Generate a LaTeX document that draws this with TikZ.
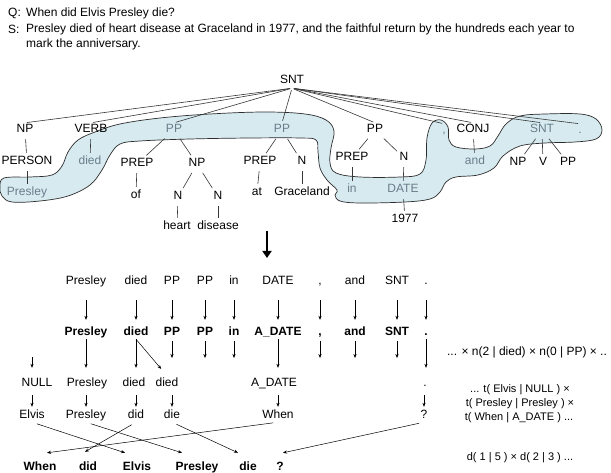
\documentclass[tikz,border=0pt]{standalone}
\usepackage{fontspec}
\setmainfont{Liberation Sans}
\usetikzlibrary{arrows.meta}
\definecolor{blobfill}{RGB}{214,234,240}
\definecolor{blobedge}{RGB}{45,45,45}
\definecolor{blobtext}{RGB}{105,126,138}
\definecolor{treeline}{RGB}{55,55,55}

\begin{document}
\begin{tikzpicture}[x=1pt,y=-1pt,>=Stealth,line join=round,
  lab/.style={font=\fontsize{12}{14}\selectfont,inner sep=1pt,text height=9pt,text depth=3pt},
  glab/.style={lab,text=blobtext},
  blab/.style={lab,font=\fontsize{12}{14}\selectfont\bfseries},
  hdr/.style={font=\fontsize{12}{14}\selectfont,anchor=west,inner sep=0pt},
  eqn/.style={font=\fontsize{11}{13}\selectfont,inner sep=0pt},
  tree/.style={treeline,line width=0.6pt,shorten <=2pt,shorten >=2pt},
  arr/.style={-{Stealth[length=4pt,width=3.2pt]},line width=0.5pt}]
  \fill[white] (0,0) rectangle (611,473);
  \useasboundingbox (0,0) rectangle (611,473);
  % question and sentence
  \node[hdr] (Q) at (8,13) {Q:};
  \node[hdr] (QT) at (26,13) {When did Elvis Presley die?};
  \node[hdr] (S) at (8,29) {S:};
  \node[hdr] (ST1) at (26,29) {Presley died of heart disease at Graceland in 1977, and the faithful return by the hundreds each year to};
  \node[hdr] (ST2) at (26,44) {mark the anniversary.};
  % aligned region
  \draw[blobedge,fill=blobfill,line width=0.7pt] plot[smooth cycle,tension=0.6] coordinates {
    (4,178) (30,177) (52,175) (62,166) (68,152) (78,140) (95,132) (120,124) (160,118)
    (210,114) (265,112) (305,114) (326,120) (334,131) (331,148) (330,163) (336,173)
    (360,177) (400,177) (420,174) (426,160) (427,138) (432,123) (441,120) (448,127)
    (449,140) (456,147) (475,149) (490,146) (498,136) (506,124) (520,116) (545,114)
    (580,114) (596,119) (602,130) (596,139) (575,142) (545,143) (520,146) (503,156)
    (494,168) (478,175) (456,177) (446,182) (440,192) (430,199) (405,202) (360,203)
    (340,201) (335,195) (337,190) (327,180) (320,168) (318,152) (316,140) (300,138)
    (250,138) (190,139) (140,141) (120,144) (110,155) (102,170) (90,185) (68,196)
    (40,201) (12,202) (2,196) (0,187)};
  % parse tree
  \node[lab] (SNT0) at (292,81) {SNT};
  \node[lab] (NP1) at (25,130) {NP};
  \node[lab] (VB1) at (91,130) {VERB};
  \node[glab] (PPa) at (174,130) {PP};
  \node[glab] (PPb) at (282,130) {PP};
  \node[lab] (PPc) at (375,130) {PP};
  \node[glab] (CMa) at (444,131) {,};
  \node[lab] (CJ1) at (473,130) {CONJ};
  \node[glab] (SNTb) at (542,130) {SNT};
  \node[glab] (PDa) at (580,131) {.};
  \node[lab] (PRS) at (27,162) {PERSON};
  \node[glab] (DIED) at (90,162) {died};
  \node[lab] (PREPa) at (137,164) {PREP};
  \node[lab] (NPa) at (197,164) {NP};
  \node[lab] (PREPb) at (260,162) {PREP};
  \node[lab] (Nb) at (302,162) {N};
  \node[lab] (PREPc) at (352,158) {PREP};
  \node[lab] (Nc) at (404,158) {N};
  \node[glab] (AND) at (475,162) {and};
  \node[lab] (NPs) at (518,163) {NP};
  \node[lab] (Vs) at (543,163) {V};
  \node[lab] (PPs) at (568,163) {PP};
  \node[glab] (PRES) at (27,193) {Presley};
  \node[lab] (OF) at (136,196) {of};
  \node[lab] (Na1) at (178,197) {N};
  \node[lab] (Na2) at (218,197) {N};
  \node[lab] (AT) at (257,193) {at};
  \node[lab] (GRC) at (302,193) {Graceland};
  \node[glab] (IN) at (352,190) {in};
  \node[glab] (DT) at (403,190) {DATE};
  \node[lab] (HRT) at (177,227) {heart};
  \node[lab] (DIS) at (218,227) {disease};
  \node[lab] (YR) at (405,220) {1977};
  \draw[tree] (SNT0.south) -- (NP1.north);
  \draw[tree] (SNT0.south) -- (VB1.north);
  \draw[tree] (SNT0.south) -- (PPa.north);
  \draw[tree] (SNT0.south) -- (PPb.north);
  \draw[tree] (SNT0.south) -- (PPc.north);
  \draw[tree] (SNT0.south) -- (CMa.north);
  \draw[tree] (SNT0.south) -- (CJ1.north);
  \draw[tree] (SNT0.south) -- (SNTb.north);
  \draw[tree] (SNT0.south) -- (PDa.north);
  \draw[tree] (NP1) -- (PRS);
  \draw[tree] (PRS) -- (PRES);
  \draw[tree] (VB1) -- (DIED);
  \draw[tree] (PPa) -- (PREPa);
  \draw[tree] (PPa) -- (NPa);
  \draw[tree] (PREPa) -- (OF);
  \draw[tree] (NPa) -- (Na1);
  \draw[tree] (NPa) -- (Na2);
  \draw[tree] (Na1) -- (HRT);
  \draw[tree] (Na2) -- (DIS);
  \draw[tree] (PPb) -- (PREPb);
  \draw[tree] (PPb) -- (Nb);
  \draw[tree] (PREPb) -- (AT);
  \draw[tree] (Nb) -- (GRC);
  \draw[tree] (PPc) -- (PREPc);
  \draw[tree] (PPc) -- (Nc);
  \draw[tree] (PREPc) -- (IN);
  \draw[tree] (Nc) -- (DT);
  \draw[tree] (DT) -- (YR);
  \draw[tree] (CJ1) -- (AND);
  \draw[tree] (SNTb) -- (NPs);
  \draw[tree] (SNTb) -- (Vs);
  \draw[tree] (SNTb) -- (PPs);
  % big arrow
  \coordinate (BA1) at (267,231);
  \coordinate (BA2) at (267,258);
  \draw[line width=2.8pt,-{Triangle[length=7pt,width=9pt]}] (BA1) -- (BA2);
  % reordered tree leaves
  \node[lab] (A1) at (86,282) {Presley};
  \node[lab] (A2) at (136,282) {died};
  \node[lab] (A3) at (172,282) {PP};
  \node[lab] (A4) at (205,282) {PP};
  \node[lab] (A5) at (234,282) {in};
  \node[lab] (A6) at (278,282) {DATE};
  \node[lab] (A7) at (320,282) {,};
  \node[lab] (A8) at (355,282) {and};
  \node[lab] (A9) at (397,282) {SNT};
  \node[lab] (A10) at (426,282) {.};
  \node[blab] (B1) at (86,332) {Presley};
  \node[blab] (B2) at (136,332) {died};
  \node[blab] (B3) at (172,332) {PP};
  \node[blab] (B4) at (205,332) {PP};
  \node[blab] (B5) at (234,332) {in};
  \node[blab] (B6) at (278,332) {A\_DATE};
  \node[blab] (B7) at (320,332) {,};
  \node[blab] (B8) at (355,332) {and};
  \node[blab] (B9) at (397,332) {SNT};
  \node[blab] (B10) at (426,332) {.};
  \draw[arr,shorten <=11pt,shorten >=5pt] (A1) -- (B1);
  \draw[arr,shorten <=11pt,shorten >=5pt] (A2) -- (B2);
  \draw[arr,shorten <=11pt,shorten >=5pt] (A3) -- (B3);
  \draw[arr,shorten <=11pt,shorten >=5pt] (A4) -- (B4);
  \draw[arr,shorten <=11pt,shorten >=5pt] (A5) -- (B5);
  \draw[arr,shorten <=11pt,shorten >=5pt] (A6) -- (B6);
  \draw[arr,shorten <=11pt,shorten >=5pt] (A7) -- (B7);
  \draw[arr,shorten <=11pt,shorten >=5pt] (A8) -- (B8);
  \draw[arr,shorten <=11pt,shorten >=5pt] (A9) -- (B9);
  \draw[arr,shorten <=11pt,shorten >=5pt] (A10) -- (B10);
  % fertility and translation rows
  \node[lab] (C1) at (37,383) {NULL};
  \node[lab] (C2) at (87,383) {Presley};
  \node[lab] (C3) at (134,383) {died};
  \node[lab] (C4) at (167,383) {died};
  \node[lab] (C5) at (274,383) {A\_DATE};
  \node[lab] (C6) at (425,383) {.};
  \node[lab] (D1) at (32,415) {Elvis};
  \node[lab] (D2) at (86,415) {Presley};
  \node[lab] (D3) at (136,415) {did};
  \node[lab] (D4) at (172,415) {die};
  \node[lab] (D5) at (278,415) {When};
  \node[lab] (D6) at (424,415) {?};
  \coordinate (N0) at (32,357);
  \coordinate (X3) at (172,358);
  \coordinate (X4) at (205,358);
  \coordinate (X5) at (234,358);
  \coordinate (X7) at (320,358);
  \coordinate (X8) at (355,358);
  \coordinate (X9) at (397,358);
  \draw[arr,shorten >=8pt] (B1) -- (B1 |- C2.north);
  \draw[arr,shorten >=8pt] (B2) -- (B2 |- C3.north);
  \draw[arr,shorten >=9pt] (B2.south) -- (C4.north);
  \draw[arr,shorten >=8pt] (B6) -- (B6 |- C5.north);
  \draw[arr,shorten >=8pt] (B10) -- (B10 |- C6.north);
  \draw[arr,shorten <=2pt] (B3) -- (X3);
  \draw[arr,shorten <=2pt] (B4) -- (X4);
  \draw[arr,shorten <=2pt] (B5) -- (X5);
  \draw[arr,shorten <=2pt] (B7) -- (X7);
  \draw[arr,shorten <=2pt] (B8) -- (X8);
  \draw[arr,shorten <=2pt] (B9) -- (X9);
  \draw[arr,shorten >=8pt] (N0) -- (N0 |- C1.north);
  \draw[arr,shorten <=5pt,shorten >=1pt] (D1 |- C1.south) -- (D1);
  \draw[arr,shorten <=5pt,shorten >=1pt] (D2 |- C2.south) -- (D2);
  \draw[arr,shorten <=5pt,shorten >=1pt] (D3 |- C3.south) -- (D3);
  \draw[arr,shorten <=5pt,shorten >=1pt] (D4 |- C4.south) -- (D4);
  \draw[arr,shorten <=5pt,shorten >=1pt] (D5 |- C5.south) -- (D5);
  \draw[arr,shorten <=5pt,shorten >=1pt] (D6 |- C6.south) -- (D6);
  % final question
  \node[blab] (E1) at (40,467) {When};
  \node[blab] (E2) at (88,467) {did};
  \node[blab] (E3) at (137,467) {Elvis};
  \node[blab] (E4) at (197,467) {Presley};
  \node[blab] (E5) at (248,467) {die};
  \node[blab] (E6) at (280,467) {?};
  \draw[arr,shorten <=5pt] (D1.south) -- ([xshift=-12pt,yshift=7pt]E3.north);
  \draw[arr,shorten <=5pt] (D2.south) -- ([xshift=-15pt,yshift=7pt]E4.north);
  \draw[arr,shorten <=5pt] (D3.south) -- ([xshift=-3pt,yshift=8pt]E2.north);
  \draw[arr,shorten <=5pt] (D4.south) -- ([xshift=-10pt,yshift=7pt]E5.north);
  \draw[arr,shorten <=5pt] (D5.south) -- ([xshift=7pt,yshift=7pt]E1.north);
  \draw[arr,shorten <=5pt] (D6.south) -- ([xshift=3pt,yshift=7pt]E6.north);
  % model factors
  \node[eqn,font=\fontsize{12}{14}\selectfont] (EQn) at (527,352) {... × n(2 | died) × n(0 | PP) × ..};
  \node[eqn] (EQt1) at (520,390) {... t( Elvis | NULL ) ×};
  \node[eqn] (EQt2) at (520,404) {t( Presley | Presley ) ×};
  \node[eqn] (EQt3) at (519,418) {t( When | A\_DATE ) ...};
  \node[eqn] (EQd) at (520,458) {d( 1 | 5 ) × d( 2 | 3 ) ...};
\end{tikzpicture}
\end{document}
